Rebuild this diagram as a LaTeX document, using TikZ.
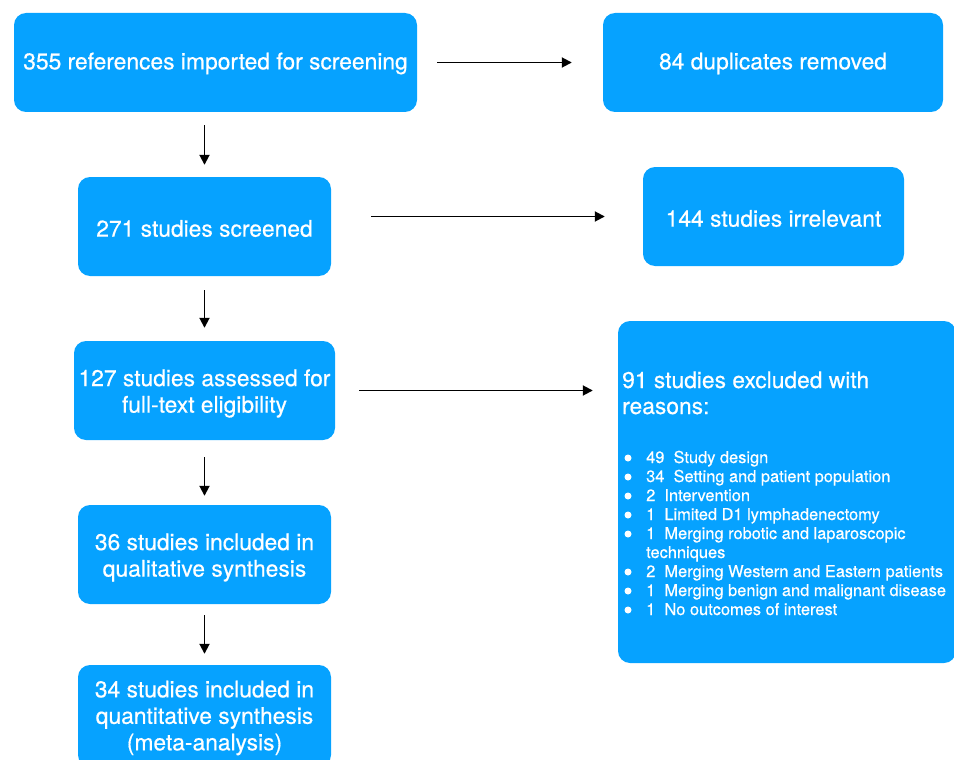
\documentclass[tikz,border=0pt]{standalone}
\usepackage{fontspec}
\setmainfont{TeX Gyre Heros}
\newfontfamily\boxfont{TeX Gyre Heros}[FakeBold=0.5]
\usetikzlibrary{arrows.meta}
\definecolor{boxblue}{RGB}{6,162,255}
\begin{document}
\begin{tikzpicture}[x=1pt,y=-1pt,
  box/.style={rounded corners=12pt, fill=boxblue, draw=none, inner sep=0pt},
  lbl/.style={text=white, align=center, inner sep=0pt, font=\boxfont\fontsize{22.8}{26.5}\selectfont},
  big/.style={text=white, inner sep=0pt, font=\boxfont\fontsize{22.8}{26.5}\selectfont},
  small/.style={text=white, inner sep=0pt, font=\boxfont\fontsize{16.4}{19}\selectfont},
  dot/.style={circle, fill=white, draw=none, minimum size=7pt, inner sep=0pt},
  arr/.style={draw=black, line width=1.8pt, -{Triangle[length=10pt,width=10pt]}}]
\useasboundingbox (0,0) rectangle (954,760);

\node[box, minimum width=403pt, minimum height=99pt] (A) at (215.5,62.5) {};
\node[box, minimum width=340pt, minimum height=99pt] (B) at (773,62.5) {};
\node[box, minimum width=253pt, minimum height=99pt] (C) at (204.5,226.5) {};
\node[box, minimum width=261pt, minimum height=99pt] (D) at (773.5,216.5) {};
\node[box, minimum width=261pt, minimum height=99pt] (E) at (204.5,390.5) {};
\node[box, minimum width=338pt, minimum height=342pt] (F) at (787,492) {};
\node[box, minimum width=253pt, minimum height=99pt] (G) at (204.5,554.5) {};
\node[box, minimum width=253pt, minimum height=102pt] (H) at (204.5,716) {};

\node[lbl] (At) at ([yshift=-1pt]A.center) {355 references imported for screening};
\node[lbl] (Bt) at ([yshift=-1pt]B.center) {84 duplicates removed};
\node[lbl] (Ct) at ([yshift=-2pt]C.center) {271 studies screened};
\node[lbl] (Dt) at ([yshift=-2pt]D.center) {144 studies irrelevant};
\node[lbl] (Et) at ([yshift=-3pt]E.center) {127 studies assessed for\\full-text eligibility};
\node[lbl] (Gt) at ([yshift=-3pt]G.center) {36 studies included in\\qualitative synthesis};
\node[lbl] (Ht) at ([yshift=-2pt]H.center) {34 studies included in\\quantitative synthesis\\(meta-analysis)};

\node[big, anchor=base west] (T1) at (622,388) {91 studies excluded with};
\node[big, anchor=base west] (T2) at (622,414) {reasons:};

\foreach \i/\t/\b in {1/{49\ \ Study design}/1,
                      2/{34\ \ Setting and patient population}/1,
                      3/{2\ \ Intervention}/1,
                      4/{1\ \ Limited D1 lymphadenectomy}/1,
                      5/{1\ \ Merging robotic and laparoscopic}/1,
                      6/{techniques}/0,
                      7/{2\ \ Merging Western and Eastern patients}/1,
                      8/{1\ \ Merging benign and malignant disease}/1,
                      9/{1\ \ No outcomes of interest}/1} {
  \node[small, anchor=base west] (L\i) at (646,{463+(\i-1)*19}) {\t};
  \ifnum\b=1
    \node[dot] (P\i) at (628,{458+(\i-1)*19}) {};
  \fi
}

\draw[arr, shorten <=20pt, shorten >=31pt] (A.east) -- (B.west);
\draw[arr, shorten <=40pt, shorten >=38pt] (C.east |- D.west) -- (D.west);
\draw[arr, shorten <=24pt, shorten >=25pt] (E.east) -- (E.east -| F.west);
\draw[arr, shorten <=13pt, shorten >=12pt] (C.north |- A.south) -- (C.north);
\draw[arr, shorten <=14pt, shorten >=13pt] (C.south) -- (E.north);
\draw[arr, shorten <=17pt, shorten >=9pt] (E.south) -- (G.north);
\draw[arr, shorten <=11pt, shorten >=11pt] (G.south) -- (H.north);
\end{tikzpicture}
\end{document}
